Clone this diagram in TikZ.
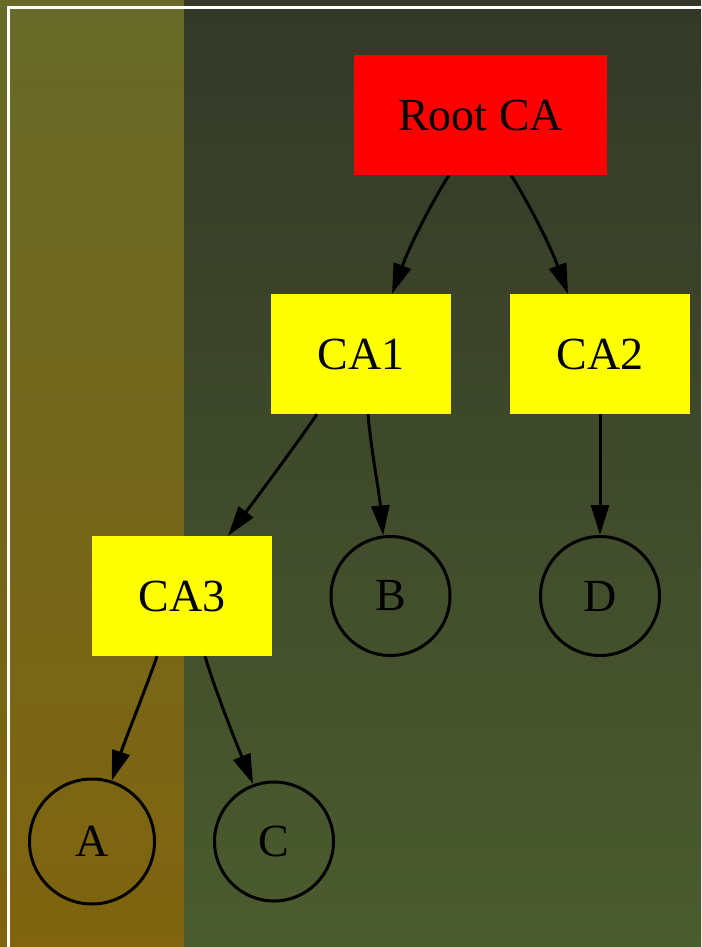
\documentclass[tikz,border=0pt]{standalone}
\usepackage{fontspec}
\setmainfont{Liberation Serif}
\usetikzlibrary{arrows.meta}
\definecolor{stripTop}{HTML}{676A28}
\definecolor{stripBot}{HTML}{80640F}
\definecolor{mainTop}{HTML}{333828}
\definecolor{mainBot}{HTML}{4B5C2E}
\definecolor{rootRed}{HTML}{FF0000}
\definecolor{caYellow}{HTML}{FFFF00}
\tikzset{
  lbl/.style={font=\fontsize{46}{55}\selectfont, text=black},
  cabox/.style={lbl, rectangle, fill=caYellow, minimum width=180pt, minimum height=120pt, inner sep=0pt},
  rootbox/.style={lbl, rectangle, fill=rootRed, minimum width=253pt, minimum height=120pt, inner sep=0pt},
  leaf/.style={lbl, circle, draw=black, line width=3pt, minimum size=119pt, inner sep=0pt},
  edge/.style={draw=black, line width=3pt, -{Triangle[length=30pt,width=18pt]}},
}
\begin{document}
\begin{tikzpicture}[x=1pt,y=-1pt]
\useasboundingbox (0,0) rectangle (701,947);
% backgrounds
\shade[top color=stripTop, bottom color=stripBot] (0,0) rectangle (184,947);
\shade[top color=mainTop, bottom color=mainBot] (184,0) rectangle (701,947);
\draw[white, line width=3pt] (8.5,950) -- (8.5,7.5) -- (705,7.5);
% nodes
\node[rootbox] (root) at (480.5,115) {Root CA};
\node[cabox] (ca1) at (361,354) {CA1};
\node[cabox] (ca2) at (600,354) {CA2};
\node[cabox] (ca3) at (182,596) {CA3};
\node[leaf] (b) at (390.5,596) {B};
\node[leaf] (d) at (600,596) {D};
\node[leaf, minimum size=125pt] (a) at (92,841.5) {A};
\node[leaf] (c) at (274,841.5) {C};
% edges
\draw[edge] ([xshift=-31.5pt]root.south) .. controls (435,197) and (412,240) .. ([xshift=31pt]ca1.north);
\draw[edge] ([xshift=30.5pt]root.south) .. controls (525,197) and (548,240) .. ([xshift=-32pt]ca2.north);
\draw[edge] ([xshift=-44pt]ca1.south) .. controls (298,442) and (258,496) .. ([xshift=46pt]ca3.north);
\draw[edge] ([xshift=7pt]ca1.south) .. controls (371,450) and (379,490) .. (b.97);
\draw[edge] (ca2.south) -- (d.north);
\draw[edge] ([xshift=-25pt]ca3.south) .. controls (148,683) and (125,740) .. (a.72);
\draw[edge] ([xshift=23pt]ca3.south) .. controls (215,690) and (235,740) .. (c.110);
\end{tikzpicture}
\end{document}
